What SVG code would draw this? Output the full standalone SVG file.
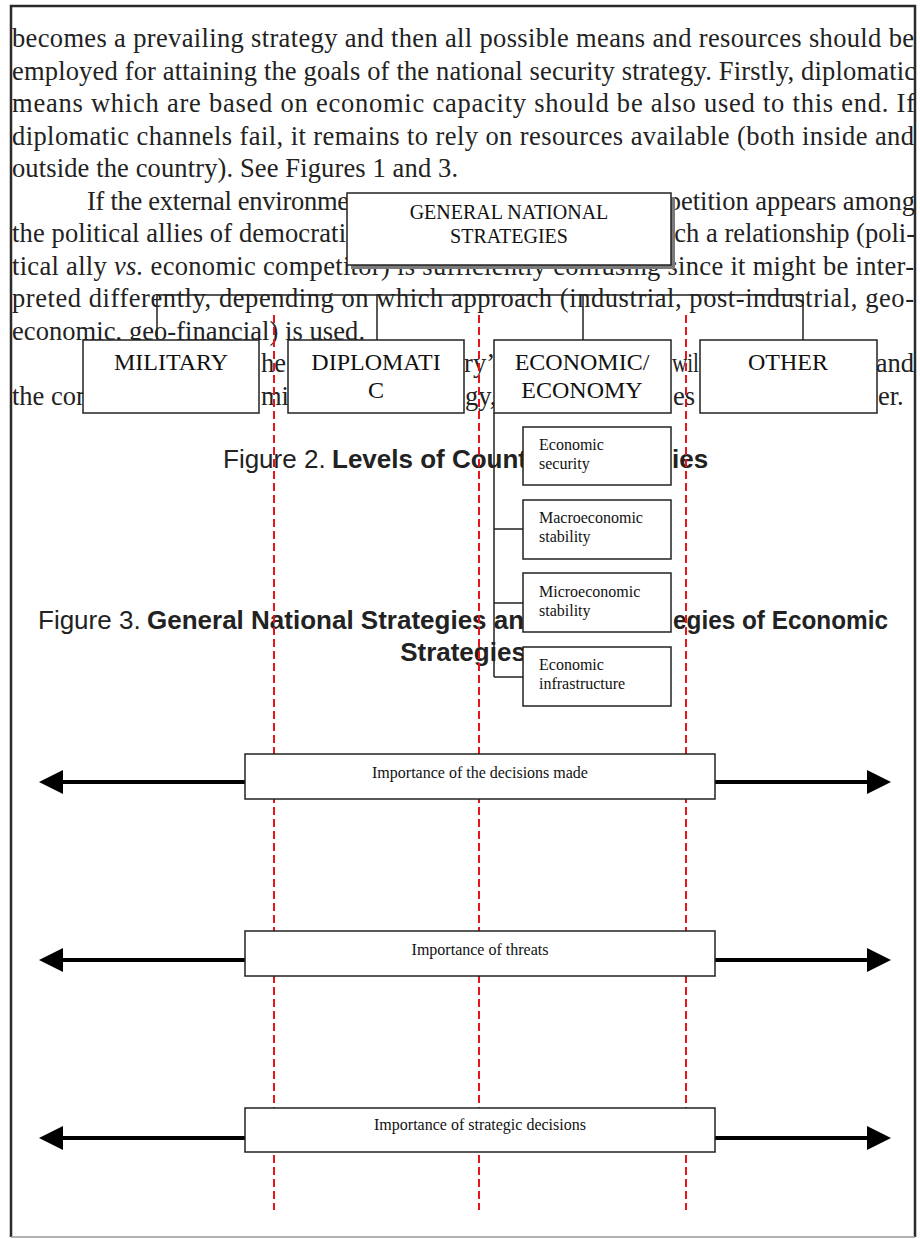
<svg xmlns="http://www.w3.org/2000/svg" width="920" height="1239" viewBox="0 0 920 1239">
<style>
.p{font-family:"Liberation Serif","Times New Roman",serif;font-size:26.5px;fill:#222}
.i{font-style:italic}
.box{fill:#fff;stroke:#222;stroke-width:1.5}
.lbl{font-family:"Liberation Serif","Times New Roman",serif;font-size:24px;fill:#111;text-anchor:middle}
.gl{font-family:"Liberation Serif","Times New Roman",serif;font-size:20px;fill:#111;text-anchor:middle}
.sub{font-family:"Liberation Serif","Times New Roman",serif;font-size:16px;fill:#111}
.cap{font-family:"Liberation Sans",Arial,sans-serif;font-size:26px;fill:#222}
.b{font-weight:bold}
.conn{stroke:#222;stroke-width:1.5;fill:none}
.guide{stroke:#e8141c;stroke-width:2;stroke-dasharray:8 4;fill:none}
.arrow{stroke:#000;stroke-width:4;fill:none;marker-end:url(#ah)}
.imp{font-family:"Liberation Serif","Times New Roman",serif;font-size:16px;fill:#111;text-anchor:middle}
</style>
<defs>
<marker id="ah" viewBox="0 0 24 24" refX="0" refY="12" markerWidth="24" markerHeight="24" markerUnits="userSpaceOnUse" orient="auto">
<path d="M0,0 L24,12 L0,24 z" fill="#000"/>
</marker>
</defs>
<rect x="0" y="0" width="920" height="1239" fill="#fff"/>

<g id="page-text">
<text class="p" x="12" y="47" textLength="902" lengthAdjust="spacing">becomes a prevailing strategy and then all possible means and resources should be</text>
<text class="p" x="12" y="79.5" textLength="904" lengthAdjust="spacing">employed for attaining the goals of the national security strategy. Firstly, diplomatic</text>
<text class="p" x="12" y="112" textLength="903" lengthAdjust="spacing">means which are based on economic capacity should be also used to this end. If</text>
<text class="p" x="12" y="144.5" textLength="902" lengthAdjust="spacing">diplomatic channels fail, it remains to rely on resources available (both inside and</text>
<text class="p" x="12" y="177" textLength="446" lengthAdjust="spacing">outside the country). See Figures 1 and 3.</text>
<text class="p" x="87" y="209.5" textLength="262" lengthAdjust="spacing">If the external environme</text>
<text class="p" x="915" y="209.5" text-anchor="end">petition appears among</text>
<text class="p" x="12" y="242" textLength="334" lengthAdjust="spacing">the political allies of democrati</text>
<text class="p" x="915" y="242" text-anchor="end">ch a relationship (poli-</text>
<text class="p" x="12" y="274.5" textLength="902" lengthAdjust="spacing">tical ally <tspan class="i">vs.</tspan> economic competitor) is sufficiently confusing since it might be inter-</text>
<text class="p" x="12" y="307" textLength="902" lengthAdjust="spacing">preted differently, depending on which approach (industrial, post-industrial, geo-</text>
<text class="p" x="12" y="339.5" textLength="353" lengthAdjust="spacing">economic, geo-financial) is used.</text>
<text class="p" x="261" y="372">he</text>
<text class="p" x="495" y="372" text-anchor="end">ry’</text>
<text class="p" x="672" y="372" textLength="27" lengthAdjust="spacingAndGlyphs">wil</text>
<text class="p" x="914" y="372" text-anchor="end">and</text>
<text class="p" x="12" y="404.5">the com</text>
<text class="p" x="261" y="404.5">mi</text>
<text class="p" x="465" y="404.5">gy,</text>
<text class="p" x="673" y="404.5">es</text>
<text class="p" x="878" y="404.5">er.</text>
</g>

<g id="captions">
<text class="cap" x="223" y="468">Figure 2.</text>
<text class="cap b" x="332" y="468">Levels of Count</text>
<text class="cap b" x="672" y="468">ies</text>
<text class="cap" x="38" y="629">Figure 3.</text>
<text class="cap b" x="147" y="629">General National Strategies an</text>
<text class="cap b" x="673" y="629" textLength="215" lengthAdjust="spacingAndGlyphs">egies of Economic</text>
<text class="cap b" x="463" y="661" text-anchor="middle">Strategies</text>
</g>

<g id="guides">
<line class="guide" x1="274" y1="315" x2="274" y2="1210"/>
<line class="guide" x1="479" y1="315" x2="479" y2="1210"/>
<line class="guide" x1="686" y1="315" x2="686" y2="1210"/>
</g>

<g id="connectors">
<path class="conn" d="M157,295 H803 M157,295 V340 M377,295 V340 M583,295 V340 M803,295 V340"/>
<path class="conn" d="M494,413 V677 M494,529 H523 M494,603 H523 M494,677 H523"/>
<line class="arrow" x1="245" y1="782" x2="63" y2="782"/>
<line class="arrow" x1="715" y1="782" x2="867" y2="782"/>
<line class="arrow" x1="245" y1="960" x2="63" y2="960"/>
<line class="arrow" x1="715" y1="960" x2="867" y2="960"/>
<line class="arrow" x1="245" y1="1138" x2="63" y2="1138"/>
<line class="arrow" x1="715" y1="1138" x2="867" y2="1138"/>
</g>

<g id="general">
<rect x="351" y="197" width="324" height="72" fill="#7a7a7a"/>
<rect class="box" x="347" y="193" width="324" height="72"/>
<text class="gl" x="509" y="219">GENERAL NATIONAL</text>
<text class="gl" x="509" y="243">STRATEGIES</text>
</g>

<g id="military">
<rect class="box" x="83" y="340" width="176" height="73"/>
<text class="lbl" x="171" y="370">MILITARY</text>
</g>
<g id="diplomatic">
<rect class="box" x="288" y="340" width="176" height="73"/>
<text class="lbl" x="376" y="370">DIPLOMATI</text>
<text class="lbl" x="376" y="398">C</text>
</g>
<g id="economic">
<rect class="box" x="494" y="340" width="177" height="73"/>
<text class="lbl" x="582" y="370">ECONOMIC/</text>
<text class="lbl" x="582" y="398">ECONOMY</text>
</g>
<g id="other">
<rect class="box" x="700" y="340" width="177" height="73"/>
<text class="lbl" x="788" y="370">OTHER</text>
</g>

<g id="economic-security">
<rect class="box" x="523" y="427" width="148" height="58"/>
<text class="sub" x="539" y="450">Economic</text>
<text class="sub" x="539" y="469">security</text>
</g>
<g id="macroeconomic-stability">
<rect class="box" x="523" y="500" width="148" height="59"/>
<text class="sub" x="539" y="523">Macroeconomic</text>
<text class="sub" x="539" y="542">stability</text>
</g>
<g id="microeconomic-stability">
<rect class="box" x="523" y="573" width="148" height="59"/>
<text class="sub" x="539" y="597">Microeconomic</text>
<text class="sub" x="539" y="616">stability</text>
</g>
<g id="economic-infrastructure">
<rect class="box" x="523" y="647" width="148" height="59"/>
<text class="sub" x="539" y="670">Economic</text>
<text class="sub" x="539" y="689">infrastructure</text>
</g>

<g id="decisions-made">
<rect class="box" x="245" y="754" width="470" height="45"/>
<text class="imp" x="480" y="778">Importance of the decisions made</text>
</g>
<g id="threats">
<rect class="box" x="245" y="931" width="470" height="45"/>
<text class="imp" x="480" y="955">Importance of threats</text>
</g>
<g id="strategic-decisions">
<rect class="box" x="245" y="1108" width="470" height="44"/>
<text class="imp" x="480" y="1130">Importance of strategic decisions</text>
</g>

<g id="page-border">
<path d="M11,1237 V6 H915 V1237" fill="none" stroke="#2a2a2a" stroke-width="2.5"/>
<line x1="11" y1="1237" x2="915" y2="1237" stroke="#9a9a9a" stroke-width="1.5"/>
</g>
</svg>
